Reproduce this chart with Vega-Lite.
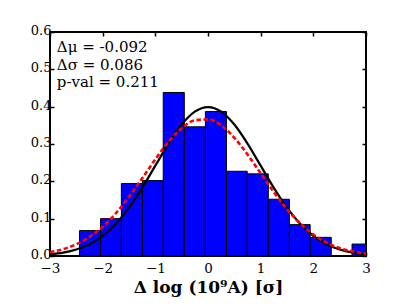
{
  "$schema": "https://vega.github.io/schema/vega-lite/v6.json",
  "autosize": {"type": "none"},
  "width": 316,
  "height": 224,
  "padding": {"left": 50, "top": 32, "right": 41, "bottom": 51},
  "background": "white",
  "config": {
    "view": {"stroke": "black", "strokeWidth": 2},
    "axis": {
      "labelFont": "DejaVu Serif",
      "labelFontSize": 13.5,
      "labelColor": "black",
      "labelFlush": false,
      "labelOverlap": false,
      "titleFont": "DejaVu Serif",
      "titleColor": "black",
      "domain": false,
      "grid": false,
      "tickColor": "black",
      "tickWidth": 1.5,
      "tickSize": -4
    }
  },
  "datasets": {
    "bins": [
      {"x0": -2.44, "x1": -2.04, "h": 0.068},
      {"x0": -2.04, "x1": -1.645, "h": 0.100},
      {"x0": -1.645, "x1": -1.245, "h": 0.194},
      {"x0": -1.245, "x1": -0.85, "h": 0.202},
      {"x0": -0.85, "x1": -0.45, "h": 0.438},
      {"x0": -0.45, "x1": -0.05, "h": 0.346},
      {"x0": -0.05, "x1": 0.35, "h": 0.387},
      {"x0": 0.35, "x1": 0.745, "h": 0.227},
      {"x0": 0.745, "x1": 1.145, "h": 0.220},
      {"x0": 1.145, "x1": 1.545, "h": 0.152},
      {"x0": 1.545, "x1": 1.94, "h": 0.084},
      {"x0": 1.94, "x1": 2.34, "h": 0.050},
      {"x0": 2.735, "x1": 3.13, "h": 0.032}
    ],
    "normal": [
      {"x": -3.0, "y": 0.00443}, {"x": -2.75, "y": 0.00909}, {"x": -2.5, "y": 0.01753},
      {"x": -2.25, "y": 0.03174}, {"x": -2.0, "y": 0.05399}, {"x": -1.75, "y": 0.08628},
      {"x": -1.5, "y": 0.12952}, {"x": -1.25, "y": 0.18265}, {"x": -1.0, "y": 0.24197},
      {"x": -0.75, "y": 0.30114}, {"x": -0.5, "y": 0.35207}, {"x": -0.25, "y": 0.38667},
      {"x": 0.0, "y": 0.39894}, {"x": 0.25, "y": 0.38667}, {"x": 0.5, "y": 0.35207},
      {"x": 0.75, "y": 0.30114}, {"x": 1.0, "y": 0.24197}, {"x": 1.25, "y": 0.18265},
      {"x": 1.5, "y": 0.12952}, {"x": 1.75, "y": 0.08628}, {"x": 2.0, "y": 0.05399},
      {"x": 2.25, "y": 0.03174}, {"x": 2.5, "y": 0.01753}, {"x": 2.75, "y": 0.00909},
      {"x": 3.0, "y": 0.00443}
    ],
    "fit": [
      {"x": -3.0, "y": 0.01019}, {"x": -2.75, "y": 0.01838}, {"x": -2.5, "y": 0.03144},
      {"x": -2.25, "y": 0.05101}, {"x": -2.0, "y": 0.07849}, {"x": -1.75, "y": 0.11454},
      {"x": -1.5, "y": 0.15852}, {"x": -1.25, "y": 0.20806}, {"x": -1.0, "y": 0.25899},
      {"x": -0.75, "y": 0.30575}, {"x": -0.5, "y": 0.34232}, {"x": -0.25, "y": 0.36348},
      {"x": 0.0, "y": 0.36603}, {"x": 0.25, "y": 0.34958}, {"x": 0.5, "y": 0.31663},
      {"x": 0.75, "y": 0.27199}, {"x": 1.0, "y": 0.22158}, {"x": 1.25, "y": 0.17120},
      {"x": 1.5, "y": 0.12544}, {"x": 1.75, "y": 0.08717}, {"x": 2.0, "y": 0.05745},
      {"x": 2.25, "y": 0.03591}, {"x": 2.5, "y": 0.02129}, {"x": 2.75, "y": 0.01197},
      {"x": 3.0, "y": 0.00638}
    ],
    "notes": [
      {"x": -2.87, "y": 0.560, "label": "Δμ = -0.092"},
      {"x": -2.87, "y": 0.512, "label": "Δσ = 0.086"},
      {"x": -2.87, "y": 0.465, "label": "p-val = 0.211"}
    ]
  },
  "layer": [
    {
      "data": {"name": "bins"},
      "mark": {"type": "rect", "fill": "#0000ff", "stroke": "black", "strokeWidth": 1, "clip": true},
      "encoding": {
        "x": {
          "field": "x0", "type": "quantitative",
          "scale": {"domain": [-3, 3], "nice": false, "zero": false},
          "axis": {"orient": "bottom", "values": [-3, -2, -1, 0, 1, 2, 3], "format": "d", "labelPadding": 9,
                   "title": "Δ log (10⁹A) [σ]", "titleFontSize": 17, "titleFontWeight": "bold", "titlePadding": 5}
        },
        "x2": {"field": "x1"},
        "y": {
          "field": "h", "type": "quantitative",
          "scale": {"domain": [0, 0.6], "nice": false},
          "axis": {"orient": "left", "values": [0, 0.1, 0.2, 0.3, 0.4, 0.5, 0.6], "format": ".1f", "labelPadding": 3,
                   "labelFontSize": 13, "labelOffset": -1.5, "title": null}
        },
        "y2": {"datum": 0}
      }
    },
    {
      "data": {"name": "normal"},
      "mark": {"type": "line", "color": "black", "strokeWidth": 2.2, "interpolate": "monotone", "clip": true},
      "encoding": {
        "x": {"field": "x", "type": "quantitative",
              "axis": {"orient": "top", "values": [-3, -2, -1, 0, 1, 2, 3], "labels": false, "title": null}},
        "y": {"field": "y", "type": "quantitative",
              "axis": {"orient": "right", "values": [0, 0.1, 0.2, 0.3, 0.4, 0.5, 0.6], "labels": false, "title": null}}
      }
    },
    {
      "data": {"name": "fit"},
      "mark": {"type": "line", "color": "#ff0000", "strokeWidth": 2.6, "strokeDash": [4.5, 2.5], "interpolate": "monotone", "clip": true},
      "encoding": {
        "x": {"field": "x", "type": "quantitative", "axis": null},
        "y": {"field": "y", "type": "quantitative", "axis": null}
      }
    },
    {
      "data": {"name": "notes"},
      "mark": {"type": "text", "align": "left", "baseline": "middle", "font": "DejaVu Serif", "fontSize": 15, "color": "black"},
      "encoding": {
        "x": {"field": "x", "type": "quantitative", "axis": null},
        "y": {"field": "y", "type": "quantitative", "axis": null},
        "text": {"field": "label"}
      }
    }
  ],
  "resolve": {"axis": {"x": "independent", "y": "independent"}}
}
